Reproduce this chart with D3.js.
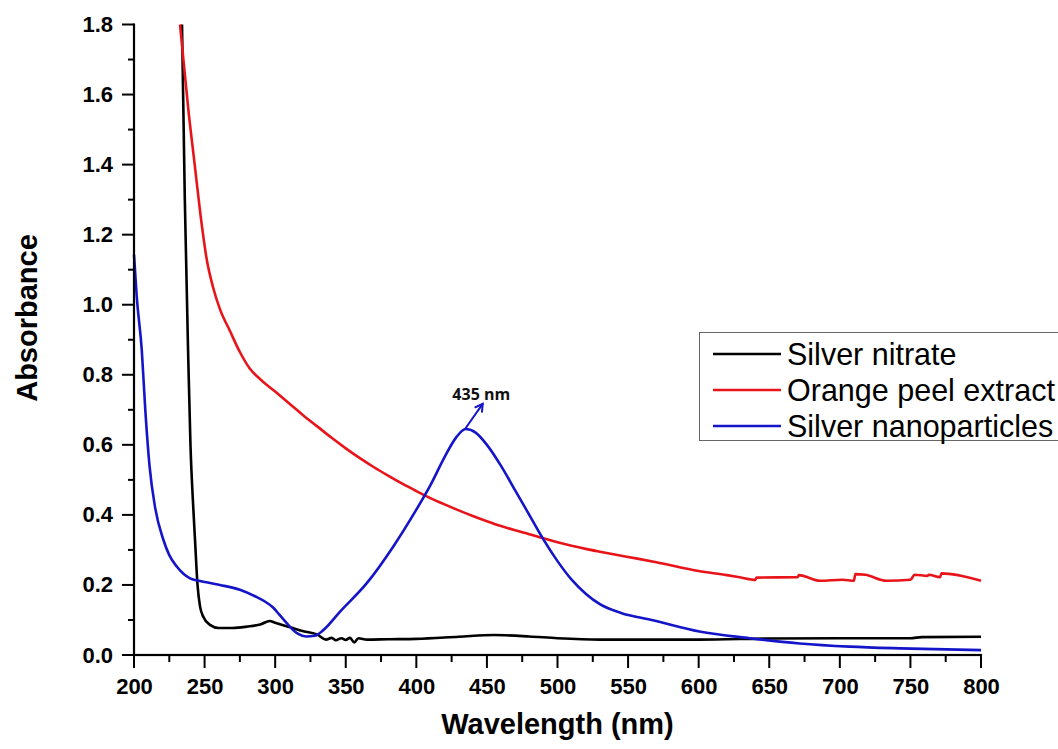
<!DOCTYPE html>
<html>
<head>
<meta charset="utf-8">
<script src="https://cdn.jsdelivr.net/npm/d3@7"></script>
<style>
  html, body { margin: 0; padding: 0; background: #fff; }
  svg { display: block; }
</style>
</head>
<body>
<svg id="chart" width="1058" height="749"></svg>
<script>
// UV-Vis absorbance spectra: [wavelength (nm), absorbance]
const silverNitrate = [
  [234, 1.80], [236, 1.30], [238.3, 0.87], [240, 0.60], [242, 0.42], [243.2, 0.33],
  [245, 0.20], [246.8, 0.138], [249, 0.11], [253.8, 0.086], [260, 0.077], [270, 0.077],
  [280, 0.081], [290, 0.088], [296, 0.097], [300, 0.092], [310, 0.080], [320, 0.068],
  [330, 0.058], [336, 0.044], [340, 0.049], [343, 0.042], [347, 0.048], [350, 0.043],
  [353, 0.049], [356, 0.036], [359, 0.048], [365, 0.044], [380, 0.045], [400, 0.046],
  [430, 0.052], [455, 0.057], [480, 0.053], [500, 0.048], [530, 0.044], [560, 0.044],
  [600, 0.044], [650, 0.047], [700, 0.048], [750, 0.048], [758, 0.051], [800, 0.052]
];

const orangePeel = [
  [232.6, 1.80], [235, 1.70], [238.5, 1.557], [243, 1.40], [247, 1.26], [251.5, 1.13],
  [256, 1.05], [261, 0.986], [268, 0.925], [275, 0.865], [282, 0.818], [290, 0.785],
  [300, 0.752], [310, 0.718], [320, 0.684], [330, 0.652], [340, 0.62], [350, 0.59],
  [360, 0.562], [370, 0.536], [380, 0.512], [390, 0.489], [400, 0.468], [410, 0.448],
  [420, 0.43], [430, 0.413], [440, 0.397], [450, 0.382], [460, 0.368], [470, 0.356],
  [480, 0.345], [490, 0.333], [500, 0.322], [510, 0.312], [520, 0.303], [530, 0.295],
  [550, 0.28], [570, 0.265], [600, 0.24], [620, 0.228], [630, 0.221], [640, 0.214],
  [641, 0.221], [670, 0.222], [671, 0.228], [686, 0.212], [702, 0.215], [710, 0.212],
  [711, 0.231], [718, 0.229], [733, 0.212], [750, 0.215], [753, 0.229], [762, 0.226],
  [763, 0.229], [771, 0.222], [772, 0.233], [800, 0.212]
];

const silverNano = [
  [200, 1.143], [202, 1.02], [205.5, 0.871], [208, 0.70], [211, 0.54], [215, 0.42],
  [220.8, 0.329], [225, 0.285], [230, 0.254], [235, 0.232], [239.7, 0.219], [246.8, 0.211],
  [260.9, 0.200], [275, 0.186], [287, 0.165], [293, 0.152], [298.7, 0.135], [303, 0.115],
  [308, 0.092], [312, 0.074], [316, 0.061], [322, 0.053], [328, 0.055], [334.1, 0.071],
  [346, 0.124], [364.9, 0.205], [383.7, 0.31], [400, 0.415], [410, 0.485], [420, 0.565],
  [428, 0.62], [435, 0.645], [442, 0.635], [450, 0.60], [460, 0.54], [470, 0.47],
  [480, 0.40], [490, 0.33], [500, 0.268], [510, 0.215], [520, 0.175], [530, 0.145],
  [545, 0.12], [566.7, 0.10], [600.5, 0.067], [636, 0.048], [671.4, 0.033], [707, 0.024],
  [742.6, 0.019], [800, 0.014]
];

const seriesNames = ["Silver nitrate", "Orange peel extract", "Silver nanoparticles"];
const seriesColors = ["#000000", "#e8141a", "#1414c8"];
const seriesData = [silverNitrate, orangePeel, silverNano];

const xTicks = [200, 250, 300, 350, 400, 450, 500, 550, 600, 650, 700, 750, 800];
const xMinorTicks = [225, 275, 325, 375, 425, 475, 525, 575, 625, 675, 725, 775];
const yTicks = [0.0, 0.2, 0.4, 0.6, 0.8, 1.0, 1.2, 1.4, 1.6, 1.8];
const yMinorTicks = [0.1, 0.3, 0.5, 0.7, 0.9, 1.1, 1.3, 1.5, 1.7];

const peakLabel = "435 nm";
const arrowFrom = [435, 0.648];
const arrowTo = [447, 0.717];
const labelAt = [446, 0.729];

const svg = d3.select("#chart");
const margin = { left: 134, right: 77, top: 24.5, bottom: 94 };
const W = 1058, H = 749;

const x = d3.scaleLinear().domain([200, 800]).range([margin.left, W - margin.right]);
const y = d3.scaleLinear().domain([0, 1.8]).range([H - margin.bottom, margin.top]);

const tickFont = "'Liberation Sans', Arial, sans-serif";

// spectra
const line = d3.line()
  .x(d => x(d[0]))
  .y(d => y(d[1]))
  .curve(d3.curveMonotoneX);

svg.append("g")
  .selectAll("path")
  .data(seriesData)
  .join("path")
  .attr("d", line)
  .attr("fill", "none")
  .attr("stroke", (d, i) => seriesColors[i])
  .attr("stroke-width", 2.6)
  .attr("stroke-linejoin", "round");

// tick labels from d3 axes
function styleLabels(g) {
  g.select(".domain").remove();
  g.selectAll(".tick line").remove();
  g.selectAll(".tick text")
    .attr("fill", "#000")
    .style("font-family", tickFont)
    .style("font-weight", "bold")
    .style("font-size", "22px");
}
const xAxisG = svg.append("g").attr("transform", `translate(0,${y(0)})`);
xAxisG.call(d3.axisBottom(x).tickValues(xTicks).tickSize(13).tickPadding(10)
  .tickFormat(d3.format("d")));
styleLabels(xAxisG);

const yAxisG = svg.append("g").attr("transform", `translate(${x(200)},0)`);
yAxisG.call(d3.axisLeft(y).tickValues(yTicks).tickSize(12).tickPadding(9)
  .tickFormat(d3.format(".1f")));
styleLabels(yAxisG);

// axis lines and tick marks, drawn as filled bars
const marks = svg.append("g").attr("fill", "#000");
const x0 = x(200), y0 = y(0);
marks.append("rect")
  .attr("x", x0 - 1.1).attr("y", y(1.8) - 1)
  .attr("width", 2.2).attr("height", y0 - y(1.8) + 2);
marks.append("rect")
  .attr("x", x0 - 1.1).attr("y", y0 - 1.1)
  .attr("width", x(800) - x0 + 2.2).attr("height", 2.2);
marks.selectAll("rect.xt")
  .data(xTicks.map(v => [v, 13]).concat(xMinorTicks.map(v => [v, 7])))
  .join("rect").attr("class", "xt")
  .attr("x", d => x(d[0]) - 1).attr("y", y0)
  .attr("width", 2).attr("height", d => d[1]);
marks.selectAll("rect.yt")
  .data(yTicks.map(v => [v, 12]).concat(yMinorTicks.map(v => [v, 6])))
  .join("rect").attr("class", "yt")
  .attr("x", d => x0 - d[1]).attr("y", d => y(d[0]) - 1)
  .attr("width", d => d[1]).attr("height", 2);

// axis titles
svg.append("text")
  .attr("x", (x(200) + x(800)) / 2)
  .attr("y", 734)
  .attr("text-anchor", "middle")
  .style("font-family", tickFont)
  .style("font-weight", "bold")
  .style("font-size", "29px")
  .text("Wavelength (nm)");

svg.append("text")
  .attr("transform", `translate(37,${318}) rotate(-90)`)
  .attr("text-anchor", "middle")
  .style("font-family", tickFont)
  .style("font-weight", "bold")
  .style("font-size", "29px")
  .text("Absorbance");

// peak annotation with arrow
const ax0 = x(arrowFrom[0]), ay0 = y(arrowFrom[1]);
const ax1 = x(arrowTo[0]), ay1 = y(arrowTo[1]);
const ang = Math.atan2(ay1 - ay0, ax1 - ax0);
const headLen = 8, headAng = Math.PI / 6;
const annot = svg.append("g").attr("stroke", seriesColors[2]).attr("stroke-width", 2)
  .attr("fill", "none").attr("stroke-linecap", "round");
annot.append("line").attr("x1", ax0).attr("y1", ay0).attr("x2", ax1).attr("y2", ay1);
annot.append("path").attr("d", d3.line()([
  [ax1 - headLen * Math.cos(ang - headAng), ay1 - headLen * Math.sin(ang - headAng)],
  [ax1, ay1],
  [ax1 - headLen * Math.cos(ang + headAng), ay1 - headLen * Math.sin(ang + headAng)]
]));

svg.append("text")
  .attr("x", x(labelAt[0]))
  .attr("y", y(labelAt[1]))
  .attr("text-anchor", "middle")
  .style("font-family", "'Open Sans', 'Noto Sans', sans-serif")
  .style("font-weight", "bold")
  .style("font-size", "16px")
  .attr("fill", "#111")
  .text(peakLabel);

// legend
const legend = svg.append("g");
legend.append("rect")
  .attr("x", 699.5).attr("y", 332.5)
  .attr("width", 380).attr("height", 108)
  .attr("fill", "#fff").attr("stroke", "#666").attr("stroke-width", 1);

const rows = legend.selectAll("g.row")
  .data(seriesNames)
  .join("g")
  .attr("class", "row")
  .attr("transform", (d, i) => `translate(0,${354 + i * 36})`);
rows.append("line")
  .attr("x1", 713).attr("x2", 781)
  .attr("stroke", (d, i) => seriesColors[i])
  .attr("stroke-width", 2.6);
rows.append("text")
  .attr("x", 787)
  .attr("dy", "0.36em")
  .style("font-family", tickFont)
  .style("font-size", "30.5px")
  .attr("fill", "#000")
  .text(d => d);
</script>
</body>
</html>
